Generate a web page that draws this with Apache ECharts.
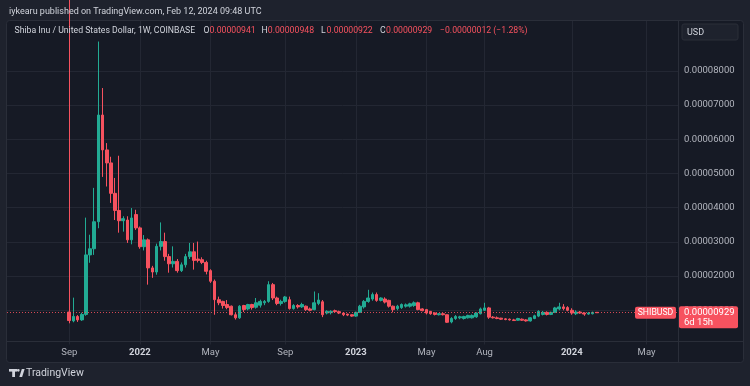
<!DOCTYPE html>
<html><head><meta charset="utf-8">
<script src="https://cdn.jsdelivr.net/npm/echarts@6/dist/echarts.min.js"></script>
<style>html,body{margin:0;padding:0;background:#1e222d;}#c{width:750px;height:386px;}</style>
</head><body><div id="c"></div>
<script>
// Weekly candles (COINBASE SHIBUSD, 1W), values in units of 1e-5 USD
const firstWeek = '2021-09-06';
const opens = [0.95,0.69,0.82,0.72,0.88,2.62,2.80,3.59,6.71,5.69,
5.31,4.42,3.92,3.62,3.64,3.06,3.80,3.41,2.86,3.06,
2.24,2.12,2.87,3.01,2.57,2.36,2.43,2.16,2.33,2.57,
2.71,2.50,2.48,2.40,2.16,1.85,1.31,1.26,1.17,1.12,
0.87,0.78,1.14,1.04,1.17,1.09,1.15,1.22,1.26,1.75,
1.36,1.20,1.26,1.31,1.05,1.14,1.10,1.12,1.04,1.02,
1.20,1.25,0.92,0.93,0.99,0.96,0.92,0.89,0.87,0.83,
0.94,1.10,1.26,1.33,1.46,1.29,1.33,1.29,1.12,1.05,
1.08,1.12,1.12,1.14,1.22,1.04,1.02,0.97,0.92,0.87,
0.90,0.87,0.66,0.76,0.78,0.76,0.78,0.78,0.81,0.90,
1.00,1.07,0.80,0.78,0.77,0.75,0.74,0.72,0.71,0.74,
0.72,0.69,0.76,0.83,0.88,0.94,0.88,0.94,1.04,1.10,
1.08,1.00,0.90,0.95,0.92,0.89,0.90,0.941];
const closes = [0.70,0.82,0.72,0.88,2.62,2.80,3.59,6.71,5.69,5.31,
4.42,3.92,3.62,3.68,3.06,3.70,3.41,2.86,3.06,2.24,
2.12,2.87,3.01,2.57,2.36,2.43,2.16,2.33,2.57,2.71,
2.46,2.46,2.40,2.14,1.85,1.31,1.22,1.14,1.08,0.87,
0.78,1.12,1.02,1.17,1.08,1.22,1.26,1.26,1.75,1.36,
1.20,1.26,1.39,1.05,1.14,1.10,1.17,1.02,1.00,1.22,
1.30,0.87,0.97,0.97,0.96,0.92,0.87,0.86,0.83,0.94,
1.12,1.26,1.36,1.46,1.29,1.36,1.24,1.12,1.02,1.12,
1.17,1.16,1.19,1.22,1.02,0.99,0.92,0.90,0.88,0.90,
0.87,0.65,0.76,0.82,0.81,0.82,0.85,0.85,0.92,1.04,
1.07,0.80,0.78,0.76,0.74,0.73,0.72,0.70,0.76,0.71,
0.69,0.78,0.84,0.97,0.94,0.88,0.94,1.07,1.10,1.05,
1.00,0.92,0.95,0.92,0.89,0.92,0.94,0.929];
const lows = [0.62,0.65,0.66,0.69,0.84,2.39,2.62,3.40,4.90,4.62,
4.14,3.64,3.27,3.30,2.97,2.93,3.35,2.80,2.75,1.75,
1.95,2.04,2.75,2.45,2.10,2.25,2.10,2.12,2.25,2.50,
2.19,2.40,2.35,2.05,1.80,0.87,1.15,1.05,1.03,0.85,
0.73,0.75,0.95,1.00,1.02,1.05,1.08,1.15,1.22,1.30,
1.15,1.14,1.22,1.02,1.02,1.05,1.07,0.98,0.97,1.00,
1.15,0.80,0.88,0.88,0.93,0.89,0.83,0.83,0.81,0.81,
0.92,1.05,1.22,1.28,1.25,1.26,1.20,1.08,0.94,1.00,
1.04,1.08,1.08,1.10,1.00,0.97,0.88,0.87,0.85,0.85,
0.85,0.63,0.62,0.72,0.74,0.73,0.76,0.76,0.78,0.88,
0.98,0.75,0.76,0.74,0.72,0.71,0.70,0.69,0.70,0.69,
0.67,0.67,0.74,0.80,0.85,0.85,0.86,0.92,1.00,1.00,
0.97,0.87,0.86,0.90,0.84,0.87,0.88,0.922];
const highs = [12.0,1.37,0.86,0.93,3.71,3.21,4.58,8.86,7.50,5.89,
5.49,4.87,5.52,3.75,3.75,3.99,3.94,3.45,3.20,3.10,
2.30,2.95,3.57,3.27,2.65,2.87,2.50,2.40,2.65,2.97,
2.97,3.01,2.55,2.45,2.20,1.90,1.40,1.28,1.30,1.14,
0.92,1.15,1.16,1.19,1.19,1.36,1.31,1.30,1.85,1.80,
1.40,1.31,1.42,1.40,1.18,1.18,1.22,1.14,1.08,1.55,
1.50,1.30,1.00,1.00,1.02,0.99,0.95,0.90,0.88,0.96,
1.16,1.30,1.60,1.52,1.52,1.38,1.38,1.31,1.14,1.16,
1.20,1.20,1.22,1.26,1.25,1.06,1.04,0.98,0.94,0.92,
0.92,0.88,0.80,0.86,0.84,0.84,0.87,0.88,0.94,1.08,
1.22,1.10,0.83,0.82,0.78,0.77,0.76,0.75,0.78,0.76,
0.74,0.80,0.87,1.00,0.98,0.97,0.96,1.10,1.22,1.18,
1.12,1.06,1.00,0.98,0.94,0.95,0.96,0.948];
const xTickDates = ['2021-09-06','2022-01-03','2022-05-02','2022-09-05','2023-01-02','2023-05-01','2023-08-07','2024-01-01','2024-05-06'];
const xTickLabels = ['Sep','2022','May','Sep','2023','May','Aug','2024','May'];
const yTickValues = [1,2,3,4,5,6,7,8];
const legendValues = {O:'0.00000941', H:'0.00000948', L:'0.00000922', C:'0.00000929', chg:'\u22120.00000012 (\u22121.28%)'};

const UP = '#22ab94', DOWN = '#f7525f';
const DAY = 86400000;
const t0 = Date.parse(firstWeek);
const candleData = opens.map((o, i) => [t0 + i * 7 * DAY, o, closes[i], lows[i], highs[i]]);
const xTickTimes = xTickDates.map(d => Date.parse(d));
const lastClose = closes[closes.length - 1];
const FONT = 'Roboto, "Noto Sans", sans-serif';
const gridCol = '#232733';
const T = 'rgba(0,0,0,0)';

const chart = echarts.init(document.getElementById('c'), null, {renderer: 'canvas', width: 750, height: 386});
chart.setOption({
  animation: false,
  backgroundColor: '#1e222d',
  textStyle: {fontFamily: FONT},
  grid: {left: 7, right: 72, top: 21, bottom: 41.5, containLabel: false, outerBoundsMode: 'none'},
  xAxis: {
    type: 'value', min: Date.parse('2021-05-24'), max: Date.parse('2024-06-28'), scale: true,
    axisLine: {show: false},
    axisTick: {show: false, customValues: xTickTimes},
    axisLabel: {
      customValues: xTickTimes, margin: 3, color: '#b2b5be', fontSize: 9.5, fontFamily: FONT,
      hideOverlap: false,
      formatter: function (v) {
        let k = -1;
        xTickTimes.forEach((t, i) => { if (Math.abs(t - v) < DAY) k = i; });
        if (k < 0) return '';
        const s = xTickLabels[k];
        return /^\d{4}$/.test(s) ? '{y|' + s + '}' : s;
      },
      rich: {y: {color: '#d1d4dc', fontWeight: 'bold', fontSize: 9.5, fontFamily: FONT}}
    },
    splitLine: {show: true, lineStyle: {color: gridCol, width: 1}}
  },
  yAxis: {
    type: 'value', position: 'right', min: 0, max: 9.46, interval: 1,
    axisLine: {show: false}, axisTick: {show: false},
    axisLabel: {
      margin: 6, color: '#b2b5be', fontSize: 9.5, fontFamily: FONT,
      formatter: function (v) {
        return yTickValues.some(t => Math.abs(t - v) < 1e-6) ? (v * 1e-5).toFixed(8) : '';
      }
    },
    splitLine: {show: true, lineStyle: {color: [T, gridCol, gridCol, gridCol, gridCol, gridCol, gridCol, gridCol, gridCol, T, T], width: 1}}
  },
  series: [{
    type: 'candlestick', data: candleData, barWidth: 3.2, clip: true,
    itemStyle: {color: UP, color0: DOWN, borderColor: UP, borderColor0: DOWN, borderWidth: 1},
    markLine: {
      silent: true, symbol: ['none', 'none'], animation: false,
      label: {show: false},
      lineStyle: {color: DOWN, type: [1, 2], width: 1, opacity: 0.85},
      data: [{yAxis: lastClose}]
    }
  }]
});

const py = chart.convertToPixel({yAxisIndex: 0}, lastClose);
const txt = (text, x, y, fill, size, extra) => ({
  type: 'text', z: 100,
  style: Object.assign({text: text, x: x, y: y, fill: fill, fontSize: size, fontFamily: FONT, align: 'left', verticalAlign: 'middle'}, extra || {})
});
chart.setOption({
  graphic: [
    {type: 'rect', z: -10, shape: {x: 6.5, y: 20.5, width: 737, height: 342, r: 3}, style: {fill: '#161a25', stroke: '#2a2e39', lineWidth: 1}},
    {type: 'line', z: 50, shape: {x1: 678.5, y1: 21, x2: 678.5, y2: 362}, style: {stroke: '#2a2e39', lineWidth: 1}},
    {type: 'line', z: 50, shape: {x1: 7, y1: 341.5, x2: 743, y2: 341.5}, style: {stroke: '#2a2e39', lineWidth: 1}},
    txt('iykearu published on TradingView.com, Feb 12, 2024 09:48 UTC', 9, 12, '#d1d4dc', 9),
    txt('Shiba Inu / United States Dollar, 1W, COINBASE', 14.5, 31, '#d1d4dc', 8.7),
    txt('O', 203.5, 31, '#d1d4dc', 8.7), txt(legendValues.O, 209.5, 31, DOWN, 8.7),
    txt('H', 261.5, 31, '#d1d4dc', 8.7), txt(legendValues.H, 267.8, 31, DOWN, 8.7),
    txt('L', 321, 31, '#d1d4dc', 8.7), txt(legendValues.L, 326.5, 31, DOWN, 8.7),
    txt('C', 380, 31, '#d1d4dc', 8.7), txt(legendValues.C, 386, 31, DOWN, 8.7),
    txt(legendValues.chg, 440, 31, DOWN, 8.7),
    {type: 'rect', z: 90, shape: {x: 682, y: 24, width: 56, height: 16, r: 2}, style: {fill: '#1e222d', stroke: '#2a2e39', lineWidth: 1}},
    txt('USD', 687, 32.5, '#d1d4dc', 9),
    {type: 'rect', z: 90, shape: {x: 635, y: py - 6, width: 41, height: 12, r: 2}, style: {fill: DOWN}},
    txt('SHIBUSD', 655.5, py, '#ffffff', 8.7, {align: 'center'}),
    {type: 'rect', z: 90, shape: {x: 679, y: py - 6.5, width: 59, height: 22, r: 2}, style: {fill: DOWN}},
    txt('0.00000929', 684, py, '#ffffff', 9.5),
    txt('6d 15h', 684, py + 10, '#ffffff', 9.5),
    {type: 'rect', z: 100, shape: {x: 9, y: 369, width: 8, height: 2.6}, style: {fill: '#d1d4dc'}},
    {type: 'rect', z: 100, shape: {x: 12.2, y: 369, width: 2.8, height: 8}, style: {fill: '#d1d4dc'}},
    {type: 'circle', z: 100, shape: {cx: 18.3, cy: 370.3, r: 1.4}, style: {fill: '#d1d4dc'}},
    {type: 'polygon', z: 100, shape: {points: [[19.3, 377], [21.8, 369], [24.6, 369], [22.1, 377]]}, style: {fill: '#d1d4dc'}},
    txt('TradingView', 26, 373.5, '#d1d4dc', 10.5)
  ]
});
</script></body></html>
